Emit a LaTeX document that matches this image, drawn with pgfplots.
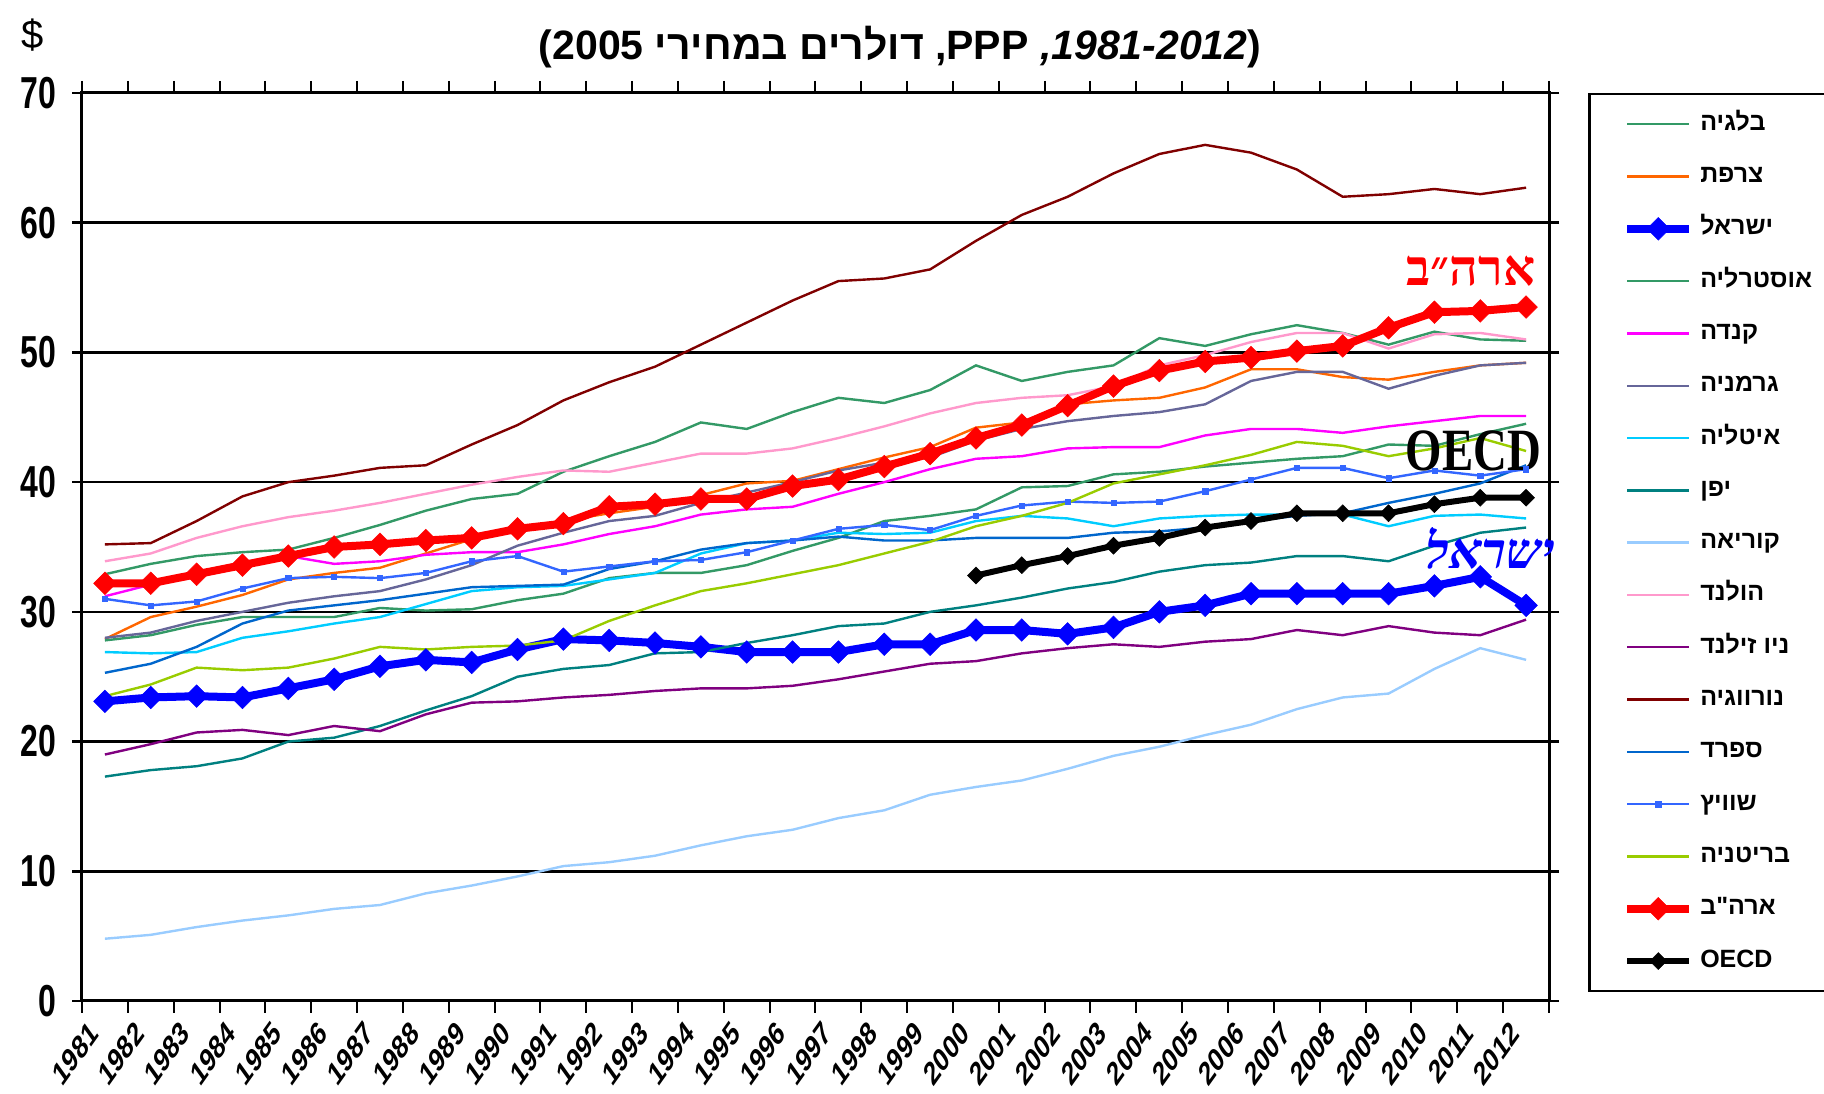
\documentclass[border=0pt]{standalone}
\usepackage{fontspec}
\usepackage{graphicx}
\usepackage{pgfplots}
\usepackage{pgfplotstable}
\pgfplotsset{compat=1.18}
\setmainfont{Liberation Sans}
\newfontfamily\heb[Script=Hebrew]{Liberation Sans}
\newfontfamily\hebserif[Script=Hebrew]{Liberation Serif}
\newfontfamily\hebsl[Script=Hebrew,FakeSlant=0.22]{Liberation Serif}
\newfontfamily\tnr{Liberation Serif}
\TeXXeTstate=1

\definecolor{cbel}{HTML}{339966}
\definecolor{cfra}{HTML}{FF6600}
\definecolor{cisr}{HTML}{0000FF}
\definecolor{ccan}{HTML}{FF00FF}
\definecolor{cger}{HTML}{666699}
\definecolor{cita}{HTML}{00CCFF}
\definecolor{cjpn}{HTML}{008080}
\definecolor{ckor}{HTML}{99CCFF}
\definecolor{cnld}{HTML}{FF99CC}
\definecolor{cnzl}{HTML}{800080}
\definecolor{cnor}{HTML}{800000}
\definecolor{cesp}{HTML}{0066CC}
\definecolor{cche}{HTML}{3366FF}
\definecolor{cgbr}{HTML}{99CC00}
\definecolor{cusa}{HTML}{FF0000}

% GDP per hour worked, PPP, 2005 dollars
\pgfplotstableread{
year bel  fra  isr  aus  can  ger  ita  jpn  kor  nld  nzl  nor  esp  che  gbr  usa  oecd
1981 32.9 27.9 23.1 27.8 31.2 28.0 26.9 17.3 4.8  33.9 19.0 35.2 25.3 31.0 23.5 32.2 nan
1982 33.7 29.6 23.4 28.2 32.1 28.4 26.8 17.8 5.1  34.5 19.8 35.3 26.0 30.5 24.4 32.2 nan
1983 34.3 30.4 23.5 29.0 33.0 29.3 26.9 18.1 5.7  35.7 20.7 37.0 27.3 30.8 25.7 32.9 nan
1984 34.6 31.3 23.4 29.6 33.6 30.0 28.0 18.7 6.2  36.6 20.9 38.9 29.1 31.8 25.5 33.6 nan
1985 34.8 32.5 24.1 29.6 34.3 30.7 28.5 20.0 6.6  37.3 20.5 40.0 30.1 32.6 25.7 34.3 nan
1986 35.7 33.0 24.8 29.6 33.7 31.2 29.1 20.3 7.1  37.8 21.2 40.5 30.5 32.7 26.4 35.0 nan
1987 36.7 33.4 25.8 30.3 33.9 31.6 29.6 21.2 7.4  38.4 20.8 41.1 30.9 32.6 27.3 35.2 nan
1988 37.8 34.5 26.3 30.1 34.4 32.5 30.6 22.4 8.3  39.1 22.1 41.3 31.4 33.0 27.1 35.5 nan
1989 38.7 35.6 26.1 30.2 34.6 33.6 31.6 23.5 8.9  39.8 23.0 42.9 31.9 33.9 27.3 35.7 nan
1990 39.1 36.4 27.1 30.9 34.6 35.1 31.9 25.0 9.6  40.4 23.1 44.4 32.0 34.3 27.4 36.4 nan
1991 40.8 37.0 27.9 31.4 35.2 36.1 32.0 25.6 10.4 40.9 23.4 46.3 32.1 33.1 27.8 36.8 nan
1992 42.0 37.6 27.8 32.6 36.0 37.0 32.5 25.9 10.7 40.8 23.6 47.7 33.3 33.5 29.3 38.1 nan
1993 43.1 38.1 27.6 33.0 36.6 37.4 33.0 26.8 11.2 41.5 23.9 48.9 33.9 33.9 30.5 38.3 nan
1994 44.6 39.0 27.3 33.0 37.5 38.4 34.5 26.9 12.0 42.2 24.1 50.6 34.8 34.0 31.6 38.7 nan
1995 44.1 39.9 26.9 33.6 37.9 39.2 35.3 27.6 12.7 42.2 24.1 52.3 35.3 34.6 32.2 38.7 nan
1996 45.4 40.1 26.9 34.7 38.1 40.0 35.5 28.2 13.2 42.6 24.3 54.0 35.5 35.5 32.9 39.7 nan
1997 46.5 41.0 26.9 35.7 39.1 40.9 36.1 28.9 14.1 43.4 24.8 55.5 35.8 36.4 33.6 40.2 nan
1998 46.1 41.9 27.5 37.0 40.0 41.5 36.0 29.1 14.7 44.3 25.4 55.7 35.5 36.7 34.5 41.2 nan
1999 47.1 42.7 27.5 37.4 41.0 41.9 36.1 30.0 15.9 45.3 26.0 56.4 35.5 36.3 35.4 42.2 nan
2000 49.0 44.2 28.6 37.9 41.8 43.2 37.0 30.5 16.5 46.1 26.2 58.6 35.7 37.4 36.6 43.4 32.8
2001 47.8 44.6 28.6 39.6 42.0 44.1 37.4 31.1 17.0 46.5 26.8 60.6 35.7 38.2 37.4 44.4 33.6
2002 48.5 46.0 28.3 39.7 42.6 44.7 37.2 31.8 17.9 46.7 27.2 62.0 35.7 38.5 38.4 45.9 34.3
2003 49.0 46.3 28.8 40.6 42.7 45.1 36.6 32.3 18.9 47.4 27.5 63.8 36.1 38.4 39.9 47.4 35.1
2004 51.1 46.5 30.0 40.8 42.7 45.4 37.2 33.1 19.6 49.0 27.3 65.3 36.2 38.5 40.6 48.6 35.7
2005 50.5 47.3 30.5 41.2 43.6 46.0 37.4 33.6 20.5 49.8 27.7 66.0 36.5 39.3 41.3 49.3 36.5
2006 51.4 48.7 31.4 41.5 44.1 47.8 37.5 33.8 21.3 50.8 27.9 65.4 37.0 40.2 42.1 49.6 37.0
2007 52.1 48.7 31.4 41.8 44.1 48.5 37.5 34.3 22.5 51.5 28.6 64.1 37.4 41.1 43.1 50.1 37.6
2008 51.5 48.1 31.4 42.0 43.8 48.5 37.5 34.3 23.4 51.5 28.2 62.0 37.6 41.1 42.8 50.5 37.6
2009 50.6 47.9 31.4 42.9 44.3 47.2 36.6 33.9 23.7 50.3 28.9 62.2 38.4 40.3 42.0 51.9 37.6
2010 51.6 48.5 32.0 42.8 44.7 48.2 37.4 35.1 25.6 51.4 28.4 62.6 39.1 40.9 42.6 53.1 38.3
2011 51.0 49.0 32.7 43.7 45.1 49.0 37.5 36.1 27.2 51.5 28.2 62.2 39.9 40.5 43.4 53.2 38.8
2012 50.9 49.2 30.5 44.5 45.1 49.2 37.2 36.5 26.3 51.0 29.4 62.7 41.3 41.0 42.4 53.5 38.8
}\data

\newcommand{\lt}[1]{\makebox[180pt][l]{\heb\beginR #1\endR}}

\begin{document}
\begin{tikzpicture}
\begin{axis}[
    scale only axis, width=1467pt, height=908pt,
    xmin=1980.5, xmax=2012.5, ymin=0, ymax=70,
    xtick={1981,1982,...,2012}, minor xtick={1980.5,1981.5,...,2012.5},
    ytick={0,10,...,70},
    /pgf/number format/.cd, 1000 sep={}, assume math mode=true, /pgfplots/.cd,
    tick align=outside, major tick length=10pt, minor tick length=12pt,
    major x tick style={draw=none},
    minor x tick style={black, line width=2pt},
    major y tick style={black, line width=2.5pt},
    ymajorgrids, major grid style={black, line width=2.7pt},
    axis line style={black, line width=3pt},
    xticklabel={\scalebox{1}[1.4]{\rotatebox{45}{\pgfmathprintnumber{\tick}}}},
    xticklabel style={font=\fontsize{23.5}{23.5}\selectfont\bfseries, anchor=north east, inner sep=0pt, yshift=-8pt, xshift=-5pt},
    yticklabel={\scalebox{1}[1.4]{\pgfmathprintnumber{\tick}}},
    yticklabel style={font=\fontsize{32}{32}\selectfont\bfseries, inner sep=0pt, xshift=-16pt},
    unbounded coords=jump,
    legend image code/.code={\draw[mark repeat=2,mark phase=2] plot coordinates {(0pt,0pt) (31pt,0pt) (62pt,0pt)};},
    legend cell align=left,
    legend style={at={(rel axis cs:1.0266,1)}, anchor=north west, draw=black, line width=2.5pt,
        font=\fontsize{25}{30}\selectfont\bfseries, inner xsep=34pt, inner ysep=18pt,
        row sep=28.3pt, column sep=7pt,
        nodes={inner sep=0pt, text height=18pt, text depth=6pt}},
    clip=false,
]
\addplot[cbel, line width=2.4pt] table[x=year, y=bel] {\data};
\addlegendentry{\lt{בלגיה}}
\addplot[cfra, line width=2.4pt] table[x=year, y=fra] {\data};
\addlegendentry{\lt{צרפת}}
\addplot[cisr, line width=8pt, mark=square*, mark size=8pt, mark options={rotate=45, solid, line width=0.5pt}] table[x=year, y=isr] {\data};
\addlegendentry{\lt{ישראל}}
\addplot[cbel, line width=2.4pt] table[x=year, y=aus] {\data};
\addlegendentry{\lt{אוסטרליה}}
\addplot[ccan, line width=2.4pt] table[x=year, y=can] {\data};
\addlegendentry{\lt{קנדה}}
\addplot[cger, line width=2.4pt] table[x=year, y=ger] {\data};
\addlegendentry{\lt{גרמניה}}
\addplot[cita, line width=2.4pt] table[x=year, y=ita] {\data};
\addlegendentry{\lt{איטליה}}
\addplot[cjpn, line width=2.4pt] table[x=year, y=jpn] {\data};
\addlegendentry{\lt{יפן}}
\addplot[ckor, line width=2.4pt] table[x=year, y=kor] {\data};
\addlegendentry{\lt{קוריאה}}
\addplot[cnld, line width=2.4pt] table[x=year, y=nld] {\data};
\addlegendentry{\lt{הולנד}}
\addplot[cnzl, line width=2.4pt] table[x=year, y=nzl] {\data};
\addlegendentry{\lt{ניו זילנד}}
\addplot[cnor, line width=2.4pt] table[x=year, y=nor] {\data};
\addlegendentry{\lt{נורווגיה}}
\addplot[cesp, line width=2.4pt] table[x=year, y=esp] {\data};
\addlegendentry{\lt{ספרד}}
\addplot[cche, line width=2.4pt, mark=square*, mark size=2.6pt, mark options={solid, line width=0.5pt}] table[x=year, y=che] {\data};
\addlegendentry{\lt{שוויץ}}
\addplot[cgbr, line width=2.4pt] table[x=year, y=gbr] {\data};
\addlegendentry{\lt{בריטניה}}
\addplot[cusa, line width=8pt, mark=square*, mark size=8pt, mark options={rotate=45, solid, line width=0.5pt}] table[x=year, y=usa] {\data};
\addlegendentry{\lt{ארה"ב}}
\addplot[black, line width=6pt, mark=square*, mark size=6pt, mark options={rotate=45, solid, line width=0.5pt}] table[x=year, y=oecd] {\data};
\addlegendentry{\makebox[180pt][l]{OECD}}

\node[text=cusa, font=\hebserif\bfseries\fontsize{50}{50}\selectfont] at (axis cs:2010.8,56.3) {\beginR ארה״ב\endR};
\node[text=black, font=\tnr\bfseries\fontsize{60}{60}\selectfont] at (axis cs:2010.85,42.4) {\scalebox{0.78}[1]{OECD}};
\node[text=cisr, font=\hebsl\bfseries\fontsize{50}{50}\selectfont] at (axis cs:2011.15,34.9) {\beginR ישראל\endR};
\end{axis}
\node[font=\fontsize{41}{44}\selectfont\bfseries] at (818pt,954pt)
  {(2005 {\heb במחירי} {\heb דולרים} ,PPP \textit{,1981-2012})};
\node[font=\fontsize{40}{40}\selectfont] at (-49pt,966pt) {\$};
\pgfresetboundingbox
\path[use as bounding box] (-82pt,-93pt) rectangle (1742pt,1001pt);
\end{tikzpicture}
\end{document}
